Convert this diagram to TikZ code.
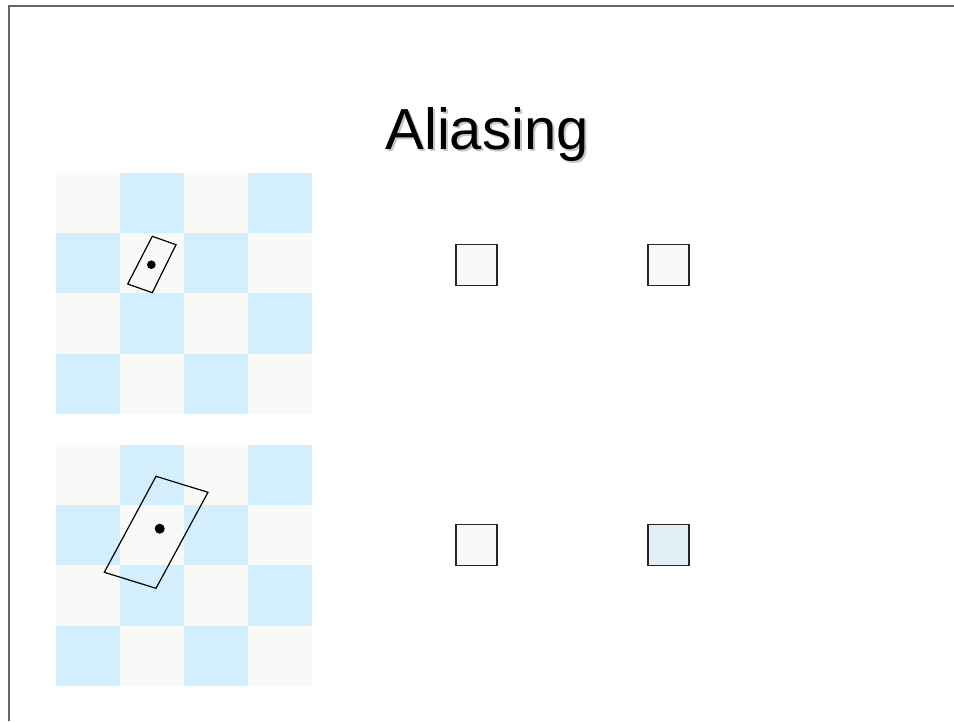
\documentclass[tikz,border=0pt]{standalone}
\usepackage{fontspec}
\setmainfont{Liberation Sans}
\definecolor{cellchiara}{RGB}{249,249,247}
\definecolor{cellblu}{RGB}{211,238,252}
\definecolor{pixblu}{RGB}{224,240,245}
\newcommand{\conombra}[1]{\makebox[0pt][l]{\hspace{2pt}\raisebox{-2pt}{\textcolor{gray!45}{#1}}}#1}
\begin{document}
\begin{tikzpicture}[
		x=1pt, y=-1pt,
		cornice/.style={line width=1.4pt, gray!80!black},
		impronta/.style={line width=1.2pt, line join=miter, black},
		campione/.style={fill=black},
		pixel/.style={draw=black!85, line width=1.4pt, minimum width=41pt, minimum height=41pt, inner sep=0pt},
		titolo/.style={font=\fontsize{58}{60}\selectfont, inner sep=0pt},
		]
		\useasboundingbox (0,0) rectangle (954,721);
		
		\def\cw{64}      % larghezza cella
		\def\ch{60.2}    % altezza cella
		
		% cornice della slide
		\draw[cornice] (954,6) -- (9,6) -- (9,721);
		
		% titolo con ombra
		\node[titolo] (titolo) at (487,135) {\conombra{Aliasing}};
		
		%%═══ SCACCHIERE ═════════════════════════════════════════════
		\foreach \y/\nome in {173/alto, 445/basso}{
			\foreach \i in {0,...,3}{
				\foreach \j in {0,...,3}{
					\pgfmathparse{mod(\i+\j,2)==0 ? "cellchiara" : "cellblu"}
					\fill[\pgfmathresult] ({56+\i*\cw},{\y+\j*\ch}) rectangle ++(\cw,\ch);
				}
			}
		}
		
		% impronta piccola (sopra)
		\draw[impronta] (152.3,236.3) -- (176,244.7) -- (152.3,292.7) -- (127.7,284) -- cycle;
		\fill[campione] (151.3,264.7) circle (4.3);
		
		% impronta grande (sotto)
		\draw[impronta] (156,476.3) -- (208,492.3) -- (156,588.3) -- (104.3,572.3) -- cycle;
		\fill[campione] (159.7,528.7) circle (5);
		
		%%═══ PIXEL RISULTANTI ════════════════════════════════════════
		\node[pixel, fill=cellchiara] (pixA) at (476.5,264.8) {};
		\node[pixel, fill=cellchiara] (pixB) at (668.3,264.8) {};
		\node[pixel, fill=cellchiara] (pixC) at (476.5,544.8) {};
		\node[pixel, fill=pixblu]     (pixD) at (668.3,544.8) {};
		
	\end{tikzpicture}
\end{document}
